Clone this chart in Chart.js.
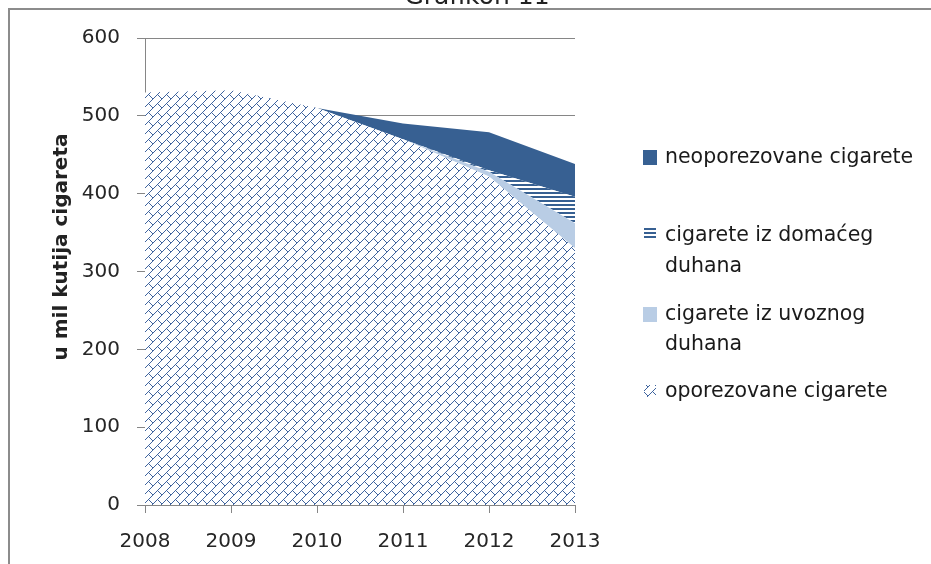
<!DOCTYPE html>
<html lang="hr">
<head>
<meta charset="UTF-8">
<title>Grafikon 11</title>
<script src="https://cdn.jsdelivr.net/npm/chart.js@4.4.1/dist/chart.umd.min.js"></script>
<style>
    html, body { margin: 0; padding: 0; background: #fff; }
    canvas { display: block; }
</style>
</head>
<body>
<canvas id="chart" width="931" height="564"></canvas>
<script>
// Data (u mil kutija cigareta)
const years = ['2008', '2009', '2010', '2011', '2012', '2013'];
const taxed = [530, 533, 510, 470, 422, 330];
const importedTobacco = [0, 0, 0, 0, 6, 32];
const domesticTobacco = [0, 0, 0, 0, 2, 34];
const untaxed = [0, 0, 0, 20, 49, 42];
const yTicks = [0, 100, 200, 300, 400, 500, 600];

const seriesNames = {
    untaxed: ['neoporezovane cigarete'],
    domestic: ['cigarete iz domaćeg', 'duhana'],
    imported: ['cigarete iz uvoznog', 'duhana'],
    taxed: ['oporezovane cigarete']
};

const DARK = '#376092';
const LIGHT = '#b9cde5';
const HATCH = '#3f649e';
const GRID = '#868686';
const FONT = '"DejaVu Sans", sans-serif';

// Patterns
function brickPattern(color) {
    const n = 9;
    const c = document.createElement('canvas');
    c.width = n; c.height = n;
    const g = c.getContext('2d');
    g.fillStyle = '#fff';
    g.fillRect(0, 0, n, n);
    g.fillStyle = color;
    // long diagonal going up-right
    for (let x = 0; x < n; x++) g.fillRect(x, n - 1 - x, 1, 1);
    // short connector going down-right from the middle
    for (let k = 5; k < n; k++) g.fillRect(k, k, 1, 1);
    return g.createPattern(c, 'repeat');
}

function stripePattern(color) {
    const c = document.createElement('canvas');
    c.width = 4; c.height = 4;
    const g = c.getContext('2d');
    g.fillStyle = '#fff';
    g.fillRect(0, 0, 4, 4);
    g.fillStyle = color;
    g.fillRect(0, 0, 4, 2);
    return g.createPattern(c, 'repeat');
}

const ctx = document.getElementById('chart').getContext('2d');
const brick = brickPattern(HATCH);
const stripes = stripePattern(DARK);

// Border, cut title, axis title and legend
const extras = {
    id: 'extras',
    afterDraw(chart) {
        const g = chart.ctx;
        g.save();

        // frame
        g.strokeStyle = '#8c8c8c';
        g.lineWidth = 2;
        g.beginPath();
        g.moveTo(9, 564);
        g.lineTo(9, 9);
        g.lineTo(931, 9);
        g.stroke();

        // title (cut off at top)
        g.fillStyle = '#222';
        g.font = '25px ' + FONT;
        g.textAlign = 'center';
        g.textBaseline = 'alphabetic';
        g.fillText('Grafikon 11', 477, 4);

        // y axis title
        g.save();
        g.translate(62, 247);
        g.rotate(-Math.PI / 2);
        g.font = 'bold 20px ' + FONT;
        g.textBaseline = 'middle';
        g.fillText('u mil kutija cigareta', 0, 0);
        g.restore();

        // legend
        g.font = '20.5px ' + FONT;
        g.textAlign = 'left';
        g.textBaseline = 'middle';
        const tx = 665;
        const ink = '#1a1a1a';

        g.fillStyle = DARK;
        g.fillRect(643, 150, 14, 15);
        g.fillStyle = ink;
        g.fillText(seriesNames.untaxed[0], tx, 158);

        g.fillStyle = DARK;
        [228, 232, 236].forEach(y => g.fillRect(644, y, 12, 2));
        g.fillStyle = ink;
        g.fillText(seriesNames.domestic[0], tx, 236);
        g.fillText(seriesNames.domestic[1], tx, 267);

        g.fillStyle = LIGHT;
        g.fillRect(643, 307, 14, 15);
        g.fillStyle = ink;
        g.fillText(seriesNames.imported[0], tx, 315);
        g.fillText(seriesNames.imported[1], tx, 345);

        g.fillStyle = brick;
        g.fillRect(644, 385, 12, 12);
        g.fillStyle = ink;
        g.fillText(seriesNames.taxed[0], tx, 392);

        g.restore();
    }
};

new Chart(ctx, {
    type: 'line',
    data: {
        labels: years,
        datasets: [
            { label: seriesNames.taxed.join(' '), data: taxed, backgroundColor: brick, fill: 'origin' },
            { label: seriesNames.imported.join(' '), data: importedTobacco, backgroundColor: LIGHT, fill: '-1' },
            { label: seriesNames.domestic.join(' '), data: domesticTobacco, backgroundColor: stripes, fill: '-1' },
            { label: seriesNames.untaxed.join(' '), data: untaxed, backgroundColor: DARK, fill: '-1' }
        ]
    },
    options: {
        responsive: false,
        animation: false,
        devicePixelRatio: 1,
        layout: { padding: { left: 0, top: 38, right: 356, bottom: 0 } },
        elements: {
            line: { borderWidth: 0, tension: 0 },
            point: { radius: 0, hoverRadius: 0 }
        },
        plugins: {
            legend: { display: false },
            tooltip: { enabled: false }
        },
        scales: {
            x: {
                offset: false,
                afterFit: s => { s.height = 59; },
                grid: { drawOnChartArea: false, drawTicks: true, tickLength: 8, color: GRID },
                border: { color: GRID },
                ticks: { color: '#262626', font: { family: FONT, size: 20 }, padding: 17, maxRotation: 0 }
            },
            y: {
                stacked: true,
                min: 0,
                max: 600,
                afterFit: s => { s.width = 145; },
                afterBuildTicks: s => { s.ticks = yTicks.map(v => ({ value: v })); },
                grid: { color: GRID, tickLength: 8 },
                border: { color: GRID },
                ticks: { color: '#262626', font: { family: FONT, size: 20 }, padding: 17 }
            }
        }
    },
    plugins: [extras]
});
</script>
</body>
</html>
